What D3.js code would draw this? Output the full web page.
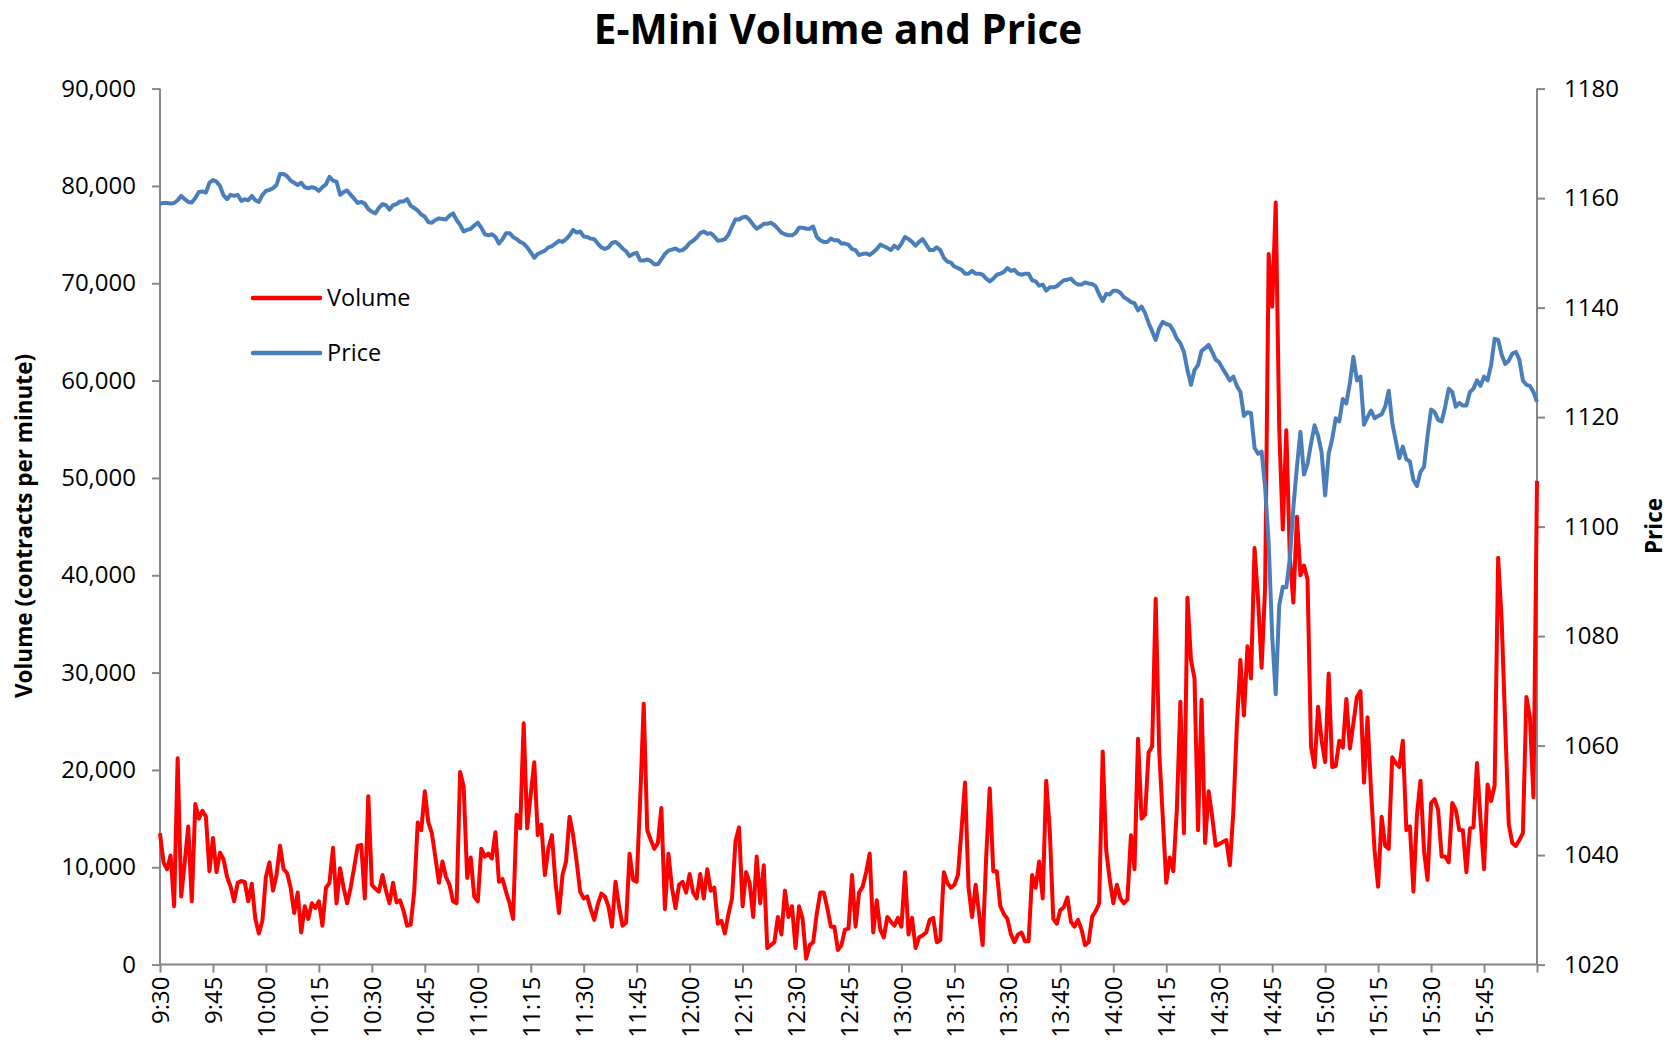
<!DOCTYPE html>
<html><head><meta charset="utf-8">
<script src="https://cdn.jsdelivr.net/npm/d3@7"></script>
<style>
body{margin:0;background:#fff}
svg{display:block}
text{font-family:"Open Sans",sans-serif;fill:#000}
</style>
</head><body>
<svg id="chart" width="1673" height="1054"></svg>
<script>
// ---- data (one value per minute, 9:30 .. 16:00) ----
const timeLabels = ["9:30","9:45","10:00","10:15","10:30","10:45","11:00","11:15","11:30","11:45","12:00","12:15","12:30","12:45","13:00","13:15","13:30","13:45","14:00","14:15","14:30","14:45","15:00","15:15","15:30","15:45"];

// volume in thousands of contracts per minute
const volumeK = [
13.5,10.5,9.8,11.2,6.0,21.2,7.0,10.5,14.2,6.5,16.5,15.0,15.8,15.2,9.6,13.0,9.5,11.5,10.8,9.0,8.0,6.5,8.4,8.6,8.5,6.5,8.3,4.7,3.2,4.5,9.0,10.5,7.6,9.2,12.2,9.8,9.4,7.9,5.3,7.4,
3.3,6.0,4.7,6.3,5.8,6.5,4.0,7.9,8.4,12.0,6.3,9.9,7.9,6.3,7.9,10.0,12.2,12.3,6.8,17.3,8.2,7.8,7.5,9.2,7.6,6.3,8.4,6.4,6.6,5.5,4.0,4.1,7.5,14.6,13.8,17.8,14.6,13.5,11.0,8.4,
10.6,9.0,8.2,6.5,6.3,19.8,18.3,8.9,11.0,7.0,6.5,11.9,11.1,11.4,10.9,13.6,8.5,8.8,7.5,6.3,4.7,15.4,14.0,24.8,14.0,17.5,20.8,13.3,14.4,9.2,11.9,13.3,8.5,5.3,9.2,10.6,15.2,13.3,10.6,7.5,
6.8,7.0,5.7,4.6,6.2,7.3,7.0,6.0,3.9,8.5,6.0,4.0,4.3,11.4,8.7,8.5,17.0,26.8,13.8,12.8,11.9,12.5,16.1,5.7,11.4,7.9,5.8,8.2,8.5,7.4,9.3,7.4,6.8,9.3,6.8,9.8,7.6,7.9,4.2,4.5,
3.2,5.2,6.8,12.7,14.1,6.0,9.5,8.4,4.9,11.1,6.3,10.2,1.7,2.0,2.3,4.9,3.1,7.6,4.9,6.0,1.7,6.0,4.7,0.6,2.0,2.3,5.2,7.4,7.4,5.8,3.9,3.9,1.5,2.0,3.6,3.7,9.2,3.9,7.4,8.0,
9.5,11.4,3.3,6.6,3.6,2.8,4.9,4.4,4.0,4.8,3.9,9.5,3.1,4.8,1.7,2.8,3.0,3.3,4.6,4.8,2.3,2.5,9.5,8.4,7.9,8.2,9.2,13.8,18.7,7.9,4.9,8.2,5.2,2.0,11.1,18.1,9.6,9.6,6.0,5.2,
4.7,3.1,2.3,3.1,3.3,2.4,2.4,9.2,7.9,10.6,6.8,18.9,13.8,4.7,4.2,5.6,5.9,6.9,4.4,3.9,4.6,3.6,2.0,2.3,4.9,5.5,6.3,21.9,11.7,8.7,6.3,8.2,6.8,6.3,6.7,13.3,9.8,23.2,15.0,15.4,
21.8,22.4,37.6,21.9,15.2,8.4,11.0,9.6,16.0,27.0,13.5,37.7,31.3,29.4,13.8,27.2,12.5,17.8,15.2,12.2,12.4,12.6,12.8,10.2,15.7,24.6,31.3,25.6,32.7,29.4,42.8,37.5,30.5,38.8,73.0,67.6,78.3,55.0,44.7,54.9,
41.8,37.2,46.0,40.0,41.0,39.6,22.4,20.3,26.5,23.0,20.8,29.9,20.3,20.4,23.0,22.3,27.3,22.2,24.8,27.5,28.1,18.7,25.4,17.8,11.7,8.0,15.2,12.2,11.9,21.3,20.7,20.3,23.0,13.8,14.2,7.5,15.4,18.9,11.7,8.7,
16.6,17.0,15.9,11.1,11.1,10.5,16.6,15.9,13.8,13.8,9.5,14.0,14.1,20.7,14.9,9.8,18.5,16.8,18.4,41.8,35.3,24.6,14.4,12.5,12.2,12.8,13.5,27.5,25.4,17.2,49.7
];

const price = [
1159.0,1159.1,1159.1,1159.0,1159.1,1159.6,1160.4,1159.8,1159.3,1159.2,1160.0,1161.1,1161.2,1161.0,1162.8,1163.3,1163.0,1162.2,1160.5,1159.8,1160.6,1160.4,1160.6,1159.5,1159.8,1159.6,1160.4,1159.6,1159.3,1160.6,1161.3,1161.5,1161.8,1162.4,1164.4,1164.4,1164.0,1163.2,1162.8,1162.4,
1162.8,1162.0,1161.8,1162.0,1161.8,1161.3,1162.0,1162.5,1163.9,1163.2,1163.0,1160.6,1161.1,1161.4,1160.6,1159.9,1159.1,1159.3,1159.0,1158.0,1157.5,1157.2,1158.2,1158.9,1158.7,1157.9,1158.7,1158.9,1159.4,1159.4,1159.8,1158.6,1158.2,1157.7,1157.0,1156.6,1155.6,1155.5,1156.0,1156.3,
1156.2,1156.1,1156.8,1157.2,1156.0,1155.1,1153.9,1154.2,1154.4,1155.0,1155.5,1154.6,1153.4,1153.2,1153.4,1152.9,1151.7,1152.5,1153.6,1153.6,1152.9,1152.5,1152.0,1151.7,1151.0,1150.1,1149.1,1149.8,1150.1,1150.4,1151.0,1151.2,1151.7,1152.2,1152.0,1152.5,1153.2,1154.2,1153.7,1153.9,
1153.0,1152.9,1152.6,1152.5,1151.7,1151.0,1150.7,1151.0,1151.8,1152.0,1151.5,1150.8,1150.3,1149.4,1149.8,1150.0,1148.6,1148.6,1148.8,1148.5,1147.9,1147.9,1148.8,1149.8,1150.4,1150.6,1150.8,1150.4,1150.5,1151.0,1151.8,1152.2,1152.8,1153.6,1153.9,1153.5,1153.6,1153.0,1152.2,
1152.3,1152.5,1153.3,1154.8,1156.1,1156.1,1156.5,1156.6,1156.0,1155.1,1154.4,1154.8,1155.3,1155.3,1155.5,1155.1,1154.4,1153.7,1153.4,1153.2,1153.2,1153.6,1154.6,1154.6,1154.4,1154.4,1154.8,1152.9,1152.3,1152.0,1152.0,1152.6,1152.3,1152.3,1151.7,1151.7,1151.5,1150.7,1150.5,1149.6,
1149.8,1149.9,1149.6,1150.1,1150.7,1151.5,1151.2,1150.9,1150.5,1151.3,1150.8,1151.7,1152.9,1152.5,1152.0,1151.3,1152.0,1152.5,1151.5,1150.5,1150.5,1151.0,1150.5,1149.1,1148.4,1148.2,1147.5,1147.2,1146.9,1146.2,1146.2,1146.7,1146.2,1146.2,1146.0,1145.3,1144.8,1145.3,1146.0,
1146.2,1146.5,1147.2,1146.7,1146.9,1146.2,1146.0,1146.2,1146.2,1145.0,1144.8,1144.0,1144.2,1143.1,1143.7,1143.7,1143.9,1144.5,1145.0,1145.1,1145.3,1144.6,1144.2,1144.2,1144.6,1144.4,1144.3,1143.9,1142.4,1141.2,1142.5,1142.4,1143.1,1143.1,1142.7,1141.9,1141.5,1141.0,
1140.8,1139.5,1140.2,1139.0,1137.2,1135.7,1134.1,1136.2,1137.4,1137.0,1136.8,1135.8,1134.3,1133.5,1131.9,1128.6,1125.9,1128.6,1129.5,1132.1,1132.6,1133.2,1131.9,1130.5,1130.0,1128.8,1127.8,1126.7,1127.4,1125.7,1124.6,1120.2,1120.9,1120.7,1114.4,1113.3,1113.7,
1107.1,1097.0,1080.0,1069.4,1085.6,1089.0,1088.9,1094.2,1103.5,1110.9,1117.3,1109.5,1111.4,1115.2,1118.5,1116.6,1113.5,1105.7,1113.3,1116.0,1119.8,1119.2,1123.3,1122.5,1126.2,1131.0,1126.7,1127.4,1118.6,1120.0,1121.2,1119.8,1120.2,1120.5,1121.9,1124.8,1119.0,
1115.7,1112.5,1114.6,1112.3,1111.9,1108.5,1107.4,1110.0,1110.9,1116.6,1121.4,1120.9,1119.5,1119.2,1121.9,1125.2,1124.6,1121.9,1122.6,1122.1,1122.1,1124.6,1125.2,1126.7,1125.7,1127.4,1126.7,1129.5,1134.3,1134.1,1131.4,1129.7,1130.3,1131.6,1131.9,1130.5,1126.7,1125.9,1125.7,1124.6,1122.8
];

const volumeTicks = [0,10000,20000,30000,40000,50000,60000,70000,80000,90000];
const priceTicks = [1020,1040,1060,1080,1100,1120,1140,1160,1180];
const seriesNames = ["Volume","Price"];
const seriesColors = ["#FF0000","#4A7EBB"];

// ---- layout ----
const svg = d3.select("#chart");
const L = 160, R = 1537, T = 88.6, B = 964.6;
const axisColor = "#868686";

const x = d3.scaleLinear().domain([0, 390]).range([L, R]);
const yVol = d3.scaleLinear().domain([0, 90000]).range([B, T]);
const yPrice = d3.scaleLinear().domain([1020, 1180]).range([B, T]);

const volume = volumeK.map(v => v * 1000);
const minutes = d3.range(volume.length);

// title
svg.append("text").attr("x", 838).attr("y", 44).attr("text-anchor", "middle")
  .style("font-size", "40.5px").style("font-weight", "700").text("E-Mini Volume and Price");

// left axis
const gL = svg.append("g").attr("transform", `translate(${L},0)`)
  .call(d3.axisLeft(yVol).tickValues(volumeTicks).tickSize(8).tickPadding(16).tickFormat(d3.format(",")));
// right axis
const gR = svg.append("g").attr("transform", `translate(${R},0)`)
  .call(d3.axisRight(yPrice).tickValues(priceTicks).tickSize(8).tickPadding(19).tickFormat(d3.format("d")));
// bottom axis
const xTickVals = d3.range(0, 391, 15);
const gB = svg.append("g").attr("transform", `translate(0,${B})`)
  .call(d3.axisBottom(x).tickValues(xTickVals).tickSize(8).tickFormat((d, i) => timeLabels[i] || ""));
gB.selectAll("text").attr("transform", "rotate(-90)").attr("text-anchor", "end")
  .attr("x", -12).attr("y", 0).attr("dy", "0.36em");

[gL, gR, gB].forEach(g => {
  g.selectAll(".domain").attr("stroke", axisColor).attr("stroke-width", 2);
  g.selectAll(".tick line").attr("stroke", axisColor).attr("stroke-width", 2);
  g.selectAll("text").style("font-size", "24px").style("font-family", "'Open Sans',sans-serif").attr("fill", "#000");
});
gL.select(".domain").attr("d", `M0,${B}V${T}`);
gR.select(".domain").attr("d", `M0,${B}V${T}`);
gB.select(".domain").attr("d", `M${L},0H${R}`);

// axis titles
svg.append("text").attr("transform", "translate(32,526) rotate(-90)").attr("text-anchor", "middle")
  .style("font-size", "22.5px").style("font-weight", "700").text("Volume (contracts per minute)");
svg.append("text").attr("transform", "translate(1662,526) rotate(-90)").attr("text-anchor", "middle")
  .style("font-size", "22.5px").style("font-weight", "700").text("Price");

// lines
const volLine = d3.line().x(i => x(i)).y(i => yVol(volume[i]));
const priceLine = d3.line().x(i => x(i)).y(i => yPrice(price[i]));
svg.append("path").datum(minutes).attr("d", volLine).attr("fill", "none")
  .attr("stroke", seriesColors[0]).attr("stroke-width", 4).attr("stroke-linejoin", "round");
svg.append("path").datum(minutes).attr("d", priceLine).attr("fill", "none")
  .attr("stroke", seriesColors[1]).attr("stroke-width", 4).attr("stroke-linejoin", "round");

// legend
const leg = svg.append("g");
seriesNames.forEach((name, i) => {
  const yy = 298 + i * 55;
  leg.append("line").attr("x1", 253).attr("x2", 320).attr("y1", yy).attr("y2", yy)
    .attr("stroke", seriesColors[i]).attr("stroke-width", 4.5).attr("stroke-linecap", "round");
  leg.append("text").attr("x", 327).attr("y", yy).attr("dy", "0.36em")
    .style("font-size", "23.5px").text(name);
});
</script>
</body></html>
